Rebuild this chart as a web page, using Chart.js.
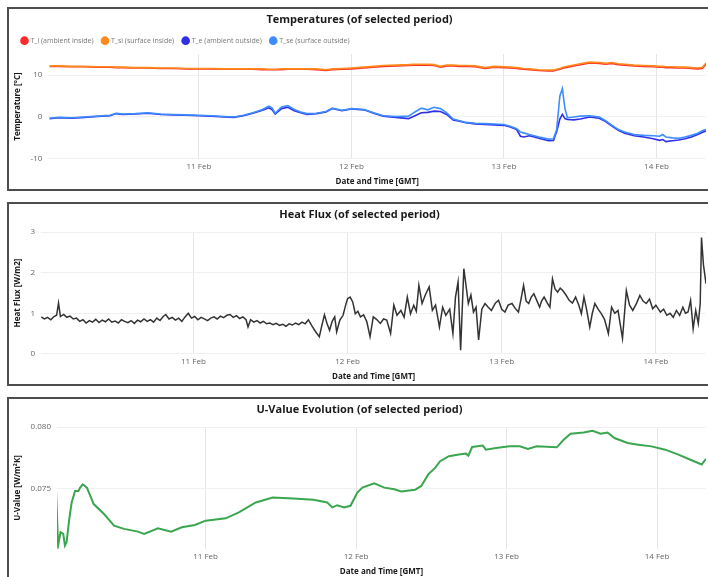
<!DOCTYPE html>
<html>
<head>
<meta charset="utf-8">
<script src="https://cdn.jsdelivr.net/npm/chart.js@4.4.1/dist/chart.umd.min.js"></script>
<style>
  html, body { margin: 0; padding: 0; background: #fff; overflow: hidden; }
  .panel { position: absolute; left: 7px; width: 706px; height: 184px; border: 2px solid #4d4d4d; box-sizing: border-box; background: #fff; }
  .panel canvas { display: block; }
</style>
</head>
<body>
<div class="panel" style="top:7px"><canvas id="temps"></canvas></div>
<div class="panel" style="top:202px"><canvas id="flux"></canvas></div>
<div class="panel" style="top:397px"><canvas id="uvalue"></canvas></div>
<script>
// hours since 10 Feb 00:00 GMT
const dayTicks = [24, 48, 72, 96];
const dayLabels = ['11 Feb', '12 Feb', '13 Feb', '14 Feb'];

// temperatures
const tempHours = [0.5, 2, 4, 6, 8, 10, 11, 12, 14, 16, 18, 20, 22, 24, 26, 28, 29.5, 31, 32.5, 34, 35, 35.5, 36, 37, 38, 39, 40, 41, 42.5, 44, 45, 46.5, 48, 50, 51.5, 53, 55, 57, 58, 59, 60, 61, 62, 63, 64, 65, 66, 67.5, 69, 70.5, 72, 73, 74, 74.6, 75.1, 76, 77.5, 79, 79.8, 80.3, 80.8, 81.2, 81.6, 82, 83, 84, 85.5, 87, 88, 89, 90, 91, 92.5, 94, 95.5, 96.5, 97, 97.5, 98.5, 99.5, 100.5, 101.5, 102.5, 103.2, 103.8];
const tAmbientIn = [12.1, 12.1, 12.0, 12.0, 11.9, 11.9, 11.8, 11.8, 11.7, 11.7, 11.6, 11.6, 11.5, 11.5, 11.5, 11.4, 11.4, 11.4, 11.4, 11.3, 11.3, 11.3, 11.3, 11.3, 11.4, 11.4, 11.4, 11.4, 11.3, 11.1, 11.3, 11.4, 11.5, 11.7, 11.9, 12.1, 12.2, 12.3, 12.4, 12.4, 12.4, 12.3, 11.9, 12.2, 12.2, 12.1, 12.1, 12.0, 11.6, 11.9, 11.8, 11.7, 11.6, 11.5, 11.4, 11.3, 11.1, 11.0, 11.0, 11.2, 11.4, 11.6, 11.8, 11.9, 12.2, 12.5, 12.9, 12.8, 12.6, 12.8, 12.5, 12.4, 12.2, 12.1, 12.0, 11.9, 11.9, 11.8, 11.8, 11.7, 11.7, 11.6, 11.5, 11.6, 12.6];
const tSurfaceIn = [12.2, 12.2, 12.1, 12.1, 12.0, 12.0, 11.9, 11.9, 11.8, 11.8, 11.7, 11.7, 11.6, 11.6, 11.6, 11.5, 11.5, 11.5, 11.5, 11.5, 11.4, 11.4, 11.4, 11.5, 11.5, 11.5, 11.5, 11.5, 11.5, 11.3, 11.5, 11.6, 11.7, 11.9, 12.1, 12.3, 12.4, 12.5, 12.6, 12.6, 12.6, 12.5, 12.1, 12.4, 12.4, 12.3, 12.3, 12.2, 11.8, 12.1, 12.0, 11.9, 11.8, 11.7, 11.6, 11.5, 11.3, 11.2, 11.2, 11.4, 11.6, 11.8, 12.0, 12.1, 12.4, 12.7, 13.1, 13.0, 12.8, 13.0, 12.7, 12.6, 12.4, 12.3, 12.2, 12.1, 12.1, 12.0, 12.0, 11.9, 11.9, 11.8, 11.7, 11.8, 12.9];
const tAmbientOut = [-0.4, -0.2, -0.3, -0.1, 0.1, 0.3, 0.8, 0.6, 0.7, 0.9, 0.6, 0.5, 0.4, 0.3, 0.2, 0.0, -0.1, 0.3, 0.9, 1.6, 2.2, 1.8, 0.7, 2.0, 2.3, 1.5, 1.0, 0.6, 0.8, 1.2, 2.0, 1.5, 1.9, 1.7, 0.9, 0.2, -0.1, -0.4, 0.3, 1.0, 1.1, 1.4, 1.3, 0.6, -0.7, -1.0, -1.4, -1.7, -1.8, -1.9, -2.0, -2.4, -3.0, -4.6, -4.8, -4.5, -5.1, -5.7, -5.6, -3.5, -0.5, 0.6, -0.4, -0.6, -0.7, -0.5, 0.0, -0.3, -1.1, -2.2, -3.2, -3.9, -4.5, -4.8, -5.2, -5.6, -5.4, -5.9, -5.7, -5.5, -5.2, -4.8, -4.2, -3.7, -3.3];
const tSurfaceOut = [-0.3, -0.1, -0.2, 0.0, 0.2, 0.4, 0.9, 0.7, 0.8, 1.0, 0.7, 0.6, 0.5, 0.4, 0.3, 0.1, 0.0, 0.4, 1.0, 1.8, 2.6, 2.2, 0.9, 2.4, 2.7, 1.8, 1.2, 0.8, 0.9, 1.3, 2.1, 1.6, 2.0, 1.8, 1.0, 0.3, 0.1, 0.2, 1.2, 2.1, 1.7, 2.3, 2.0, 1.0, -0.5, -0.9, -1.3, -1.5, -1.6, -1.7, -1.8, -2.2, -2.8, -3.6, -3.8, -4.2, -4.8, -5.3, -5.2, -3.0, 5.0, 6.8, 2.0, -0.2, 0.0, 0.2, 0.3, 0.0, -0.9, -2.0, -3.0, -3.6, -4.2, -4.4, -4.5, -4.6, -4.2, -4.8, -5.0, -5.1, -4.8, -4.4, -3.9, -3.3, -3.0];

// heat flux
const fluxHours = [0.3, 0.8, 1.3, 1.8, 2.3, 2.7, 3.0, 3.3, 3.8, 4.3, 4.8, 5.3, 5.8, 6.3, 6.8, 7.3, 7.8, 8.3, 8.8, 9.3, 9.8, 10.3, 10.8, 11.3, 11.8, 12.3, 12.8, 13.3, 13.8, 14.3, 14.8, 15.3, 15.8, 16.3, 16.8, 17.3, 17.8, 18.3, 18.8, 19.3, 19.7, 20.2, 20.7, 21.2, 21.7, 22.2, 22.7, 23.2, 23.7, 24.2, 24.7, 25.2, 25.7, 26.2, 26.7, 27.2, 27.7, 28.2, 28.7, 29.2, 29.7, 30.2, 30.7, 31.2, 31.7, 32.2, 32.5, 32.9, 33.4, 33.9, 34.4, 34.9, 35.4, 35.9, 36.4, 36.9, 37.4, 37.9, 38.4, 38.9, 39.4, 39.9, 40.4, 40.9, 41.4, 41.9, 42.4, 43.0, 43.6, 44.0, 44.4, 44.8, 45.2, 45.6, 46.0, 46.3, 46.8, 47.3, 47.7, 48.0, 48.4, 48.8, 49.2, 49.6, 50.0, 50.5, 51.0, 51.5, 52.0, 52.5, 53.1, 53.6, 54.1, 54.7, 55.2, 55.7, 56.3, 56.8, 57.3, 57.8, 58.3, 58.7, 59.1, 59.6, 60.1, 60.7, 61.2, 61.7, 62.3, 62.8, 63.3, 63.9, 64.4, 64.8, 65.2, 65.6, 66.1, 66.8, 67.2, 67.6, 68.0, 68.4, 68.9, 69.4, 69.9, 70.4, 71.0, 71.5, 72.0, 72.5, 73.0, 73.6, 74.1, 74.6, 75.0, 75.4, 75.8, 76.2, 76.6, 77.0, 77.5, 77.9, 78.2, 78.6, 79.1, 79.5, 79.9, 80.3, 80.7, 81.1, 81.5, 82.0, 82.5, 83.0, 83.5, 84.0, 84.4, 84.8, 85.2, 85.7, 86.1, 86.5, 87.0, 87.5, 88.0, 88.6, 89.1, 89.6, 90.1, 90.8, 91.4, 91.9, 92.4, 93.0, 93.5, 94.0, 94.5, 95.0, 95.5, 96.0, 96.7, 97.2, 97.7, 98.2, 98.7, 99.2, 99.7, 100.2, 100.6, 101.0, 101.4, 101.8, 102.2, 102.6, 102.9, 103.1, 103.4, 103.8];
const heatFlux = [0.91, 0.86, 0.90, 0.84, 0.92, 0.95, 1.25, 0.92, 0.97, 0.90, 0.93, 0.86, 0.88, 0.80, 0.84, 0.76, 0.82, 0.78, 0.85, 0.77, 0.83, 0.79, 0.86, 0.78, 0.81, 0.76, 0.84, 0.80, 0.77, 0.82, 0.75, 0.83, 0.79, 0.86, 0.80, 0.84, 0.78, 0.88, 0.82, 0.92, 0.97, 0.86, 0.90, 0.83, 0.88, 0.80, 0.91, 1.00, 0.88, 0.92, 0.84, 0.90, 0.86, 0.82, 0.88, 0.91, 0.86, 0.93, 0.89, 0.95, 0.97, 0.90, 0.94, 0.87, 0.91, 0.84, 0.66, 0.84, 0.78, 0.82, 0.76, 0.80, 0.74, 0.76, 0.72, 0.75, 0.70, 0.73, 0.68, 0.74, 0.71, 0.76, 0.72, 0.78, 0.74, 0.84, 0.70, 0.55, 0.42, 0.70, 0.96, 0.75, 0.58, 0.80, 0.91, 0.54, 0.83, 0.95, 1.20, 1.36, 1.40, 1.28, 0.99, 1.05, 0.91, 0.96, 0.79, 0.42, 0.91, 0.85, 0.75, 0.86, 0.83, 0.50, 1.20, 0.95, 1.07, 0.90, 1.40, 0.99, 1.20, 1.05, 1.69, 1.24, 1.45, 1.65, 1.07, 1.20, 0.66, 1.15, 0.95, 1.10, 0.50, 1.40, 1.77, 0.09, 2.10, 1.24, 1.45, 1.03, 1.15, 0.34, 1.10, 1.24, 1.15, 1.07, 1.25, 1.32, 1.10, 1.03, 1.20, 1.24, 1.12, 1.03, 1.35, 1.69, 1.30, 1.24, 1.40, 1.48, 1.30, 1.15, 1.30, 1.40, 1.25, 1.15, 1.85, 1.60, 1.52, 1.62, 1.56, 1.45, 1.32, 1.25, 1.40, 1.20, 0.99, 1.40, 1.10, 0.66, 1.00, 1.24, 1.10, 0.99, 0.85, 0.50, 1.15, 1.00, 1.07, 0.38, 1.56, 1.20, 1.07, 1.25, 1.44, 1.30, 1.24, 1.35, 1.11, 1.20, 1.03, 1.10, 0.95, 1.00, 0.90, 1.07, 0.95, 1.15, 1.00, 1.03, 1.32, 0.62, 1.07, 0.75, 1.24, 2.87, 2.20, 1.73];

// U-value
const uHours = [0.1, 0.48, 0.86, 1.3, 1.56, 1.83, 2.26, 2.64, 3.18, 3.72, 4.0, 4.4, 5.07, 6.15, 7.8, 9.4, 11.0, 13.2, 14.2, 16.4, 18.5, 20.2, 22.3, 24.0, 27.2, 29.3, 32.0, 34.7, 38.0, 41.2, 43.4, 44.2, 45.0, 46.1, 47.1, 48.2, 49.0, 50.9, 52.5, 54.1, 55.2, 57.4, 58.4, 59.5, 60.6, 61.4, 62.8, 64.4, 65.5, 65.9, 66.5, 68.2, 68.7, 70.3, 72.5, 74.1, 75.4, 76.8, 80.0, 81.1, 82.2, 84.3, 85.7, 87.0, 88.1, 89.2, 91.3, 93.0, 95.1, 97.3, 99.4, 101.6, 103.1, 103.8];
const uValue = [0.07548, 0.07037, 0.07145, 0.07131, 0.07037, 0.07064, 0.07253, 0.07387, 0.07481, 0.07481, 0.07508, 0.07535, 0.07508, 0.07374, 0.07293, 0.07199, 0.07172, 0.0715, 0.07131, 0.07177, 0.0715, 0.07185, 0.07204, 0.07239, 0.07258, 0.07306, 0.07387, 0.07427, 0.07419, 0.07409, 0.07387, 0.07347, 0.07365, 0.07347, 0.0736, 0.07468, 0.07508, 0.07543, 0.07508, 0.07495, 0.07476, 0.0749, 0.07522, 0.07616, 0.07669, 0.07723, 0.07764, 0.07777, 0.07785, 0.07769, 0.07839, 0.0785, 0.07817, 0.07831, 0.07844, 0.07844, 0.07823, 0.07844, 0.07836, 0.07898, 0.07947, 0.07957, 0.07971, 0.07947, 0.07957, 0.07912, 0.07871, 0.07858, 0.07844, 0.07817, 0.07777, 0.07729, 0.07696, 0.07742];

const FONT = "'Open Sans', 'Noto Sans', sans-serif";
Chart.defaults.font.family = FONT;

function points(xs, ys) {
  return xs.map((x, i) => ({ x: x, y: ys[i] }));
}

function makeOptions(title, yTitle, yMin, yMax, yTicks, yFormat, showLegend) {
  return {
    responsive: true,
    maintainAspectRatio: false,
    animation: false,
    layout: { padding: { left: 4, right: 5, top: 0, bottom: 2 } },
    plugins: {
      title: {
        display: true, text: title, color: '#1a1a1a',
        font: { size: 11, weight: 'bold' },
        padding: { top: 4, bottom: showLegend ? 2 : 11 }
      },
      legend: {
        display: showLegend, align: 'start',
        labels: {
          usePointStyle: true, pointStyle: 'circle', boxWidth: 5, boxHeight: 5,
          color: '#777', font: { size: 7 }, padding: 9,
          sort: (a, b) => a.datasetIndex - b.datasetIndex
        }
      },
      tooltip: { enabled: false }
    },
    scales: {
      x: {
        type: 'linear', min: 0.3, max: 103.8,
        afterBuildTicks: axis => { axis.ticks = dayTicks.map(v => ({ value: v })); },
        ticks: {
          callback: v => dayLabels[dayTicks.indexOf(v)],
          color: '#666', font: { size: 8 }, maxRotation: 0, padding: 3
        },
        grid: { color: '#e6e6e6', drawTicks: false },
        border: { display: false },
        title: {
          display: true, text: 'Date and Time [GMT]', color: '#1a1a1a',
          font: { size: 8, weight: 'bold' }, padding: { top: 3, bottom: 0 }
        }
      },
      y: {
        min: yMin, max: yMax,
        afterBuildTicks: axis => { axis.ticks = yTicks.map(v => ({ value: v })); },
        ticks: { callback: yFormat, color: '#666', font: { size: 8 }, padding: 6 },
        grid: { color: '#f0f0f0', drawTicks: false },
        border: { display: false },
        title: {
          display: true, text: yTitle, color: '#1a1a1a',
          font: { size: 8, weight: 'bold' }, padding: { top: 0, bottom: 2 }
        }
      }
    }
  };
}

function lineSet(label, xs, ys, color, width, order) {
  return {
    label: label,
    data: points(xs, ys),
    borderColor: color,
    backgroundColor: color,
    borderWidth: width,
    pointRadius: 0,
    tension: 0,
    order: order
  };
}

new Chart(document.getElementById('temps'), {
  type: 'line',
  data: {
    datasets: [
      lineSet('T_i (ambient inside)', tempHours, tAmbientIn, '#ff2b2b', 1.6, 4),
      lineSet('T_si (surface inside)', tempHours, tSurfaceIn, '#ff8a1c', 1.6, 3),
      lineSet('T_e (ambient outside)', tempHours, tAmbientOut, '#2f2fe6', 1.6, 2),
      lineSet('T_se (surface outside)', tempHours, tSurfaceOut, '#3d8dff', 1.6, 1)
    ]
  },
  options: makeOptions('Temperatures (of selected period)', 'Temperature [°C]', -10, 15, [-10, 0, 10], v => v, true)
});

new Chart(document.getElementById('flux'), {
  type: 'line',
  data: { datasets: [lineSet('Heat Flux', fluxHours, heatFlux, '#333333', 1.5, 0)] },
  options: makeOptions('Heat Flux (of selected period)', 'Heat Flux [W/m2]', 0, 3, [0, 1, 2, 3], v => v, false)
});

new Chart(document.getElementById('uvalue'), {
  type: 'line',
  data: { datasets: [lineSet('U-Value', uHours, uValue, '#3aa64f', 2, 0)] },
  options: makeOptions('U-Value Evolution (of selected period)', 'U-Value [W/m²K]', 0.0701, 0.080, [0.075, 0.080], v => v.toFixed(3), false)
});
</script>
</body>
</html>
